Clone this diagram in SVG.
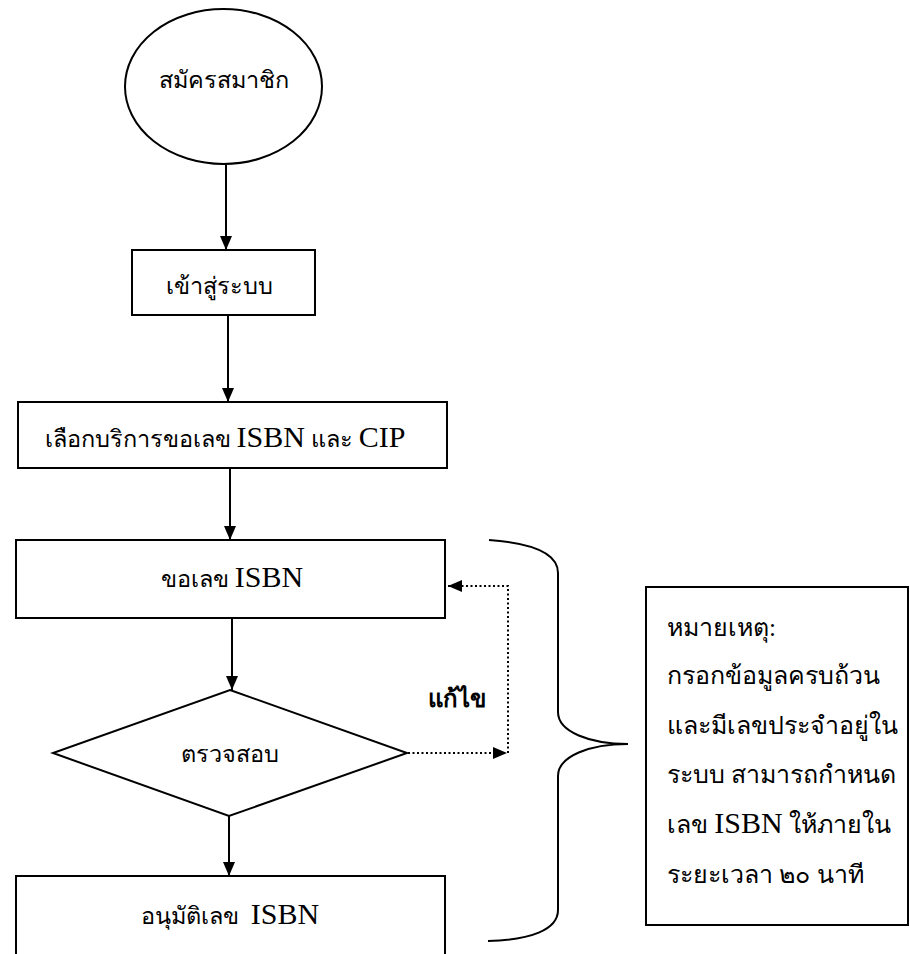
<svg xmlns="http://www.w3.org/2000/svg" width="910" height="954" viewBox="0 0 910 954">
<defs>
<style>
.shape{fill:#fff;stroke:#000;stroke-width:2}
.t{font-family:"Liberation Serif","Times New Roman",serif;font-size:23.5px;fill:#000;text-anchor:middle}
.n{font-family:"Liberation Serif","Times New Roman",serif;font-size:25px;fill:#000}
.lat{font-size:30px}
.lbl{font-family:"Liberation Sans",Arial,sans-serif;font-size:24px;font-weight:bold;fill:#000;text-anchor:middle}
.solid{fill:none;stroke:#000;stroke-width:2}
.dot{fill:none;stroke:#000;stroke-width:2;stroke-dasharray:2 2.5}
</style>
<marker id="ah" markerWidth="14" markerHeight="12" refX="14" refY="6" orient="auto" markerUnits="userSpaceOnUse">
<path d="M0,0 L14,6 L0,12 Z" fill="#000"/>
</marker>
</defs>
<rect width="910" height="954" fill="#fff"/>
<g id="connectors">
<path class="solid" d="M226,164 V250" marker-end="url(#ah)"/>
<path class="solid" d="M228,315 V402" marker-end="url(#ah)"/>
<path class="solid" d="M230,468 V540" marker-end="url(#ah)"/>
<path class="solid" d="M232,618 V690" marker-end="url(#ah)"/>
<path class="solid" d="M229,816 V876" marker-end="url(#ah)"/>
<path class="dot" d="M408,753 H507" marker-end="url(#ah)"/>
<path class="dot" d="M508,753 V586 H448" marker-end="url(#ah)"/>
<text class="lbl" x="457" y="707">แก้ไข</text>
</g>
<g id="start">
<ellipse class="shape" cx="223.5" cy="86.5" rx="98.5" ry="77.5"/>
<text class="t" x="224" y="88">สมัครสมาชิก</text>
</g>
<g id="login">
<rect class="shape" x="132" y="250" width="183" height="65"/>
<text class="t" x="219" y="294">เข้าสู่ระบบ</text>
</g>
<g id="select">
<rect class="shape" x="18" y="402" width="429" height="66"/>
<text class="t" x="225" y="447">เลือกบริการขอเลข <tspan class="lat">ISBN</tspan> และ <tspan class="lat">CIP</tspan></text>
</g>
<g id="request">
<rect class="shape" x="16" y="540" width="429" height="78"/>
<text class="t" x="232" y="587">ขอเลข <tspan class="lat">ISBN</tspan></text>
</g>
<g id="check">
<polygon class="shape" points="230,690 407,753 229,816 53,753"/>
<text class="t" x="230" y="762">ตรวจสอบ</text>
</g>
<g id="approve">
<rect class="shape" x="16" y="876" width="429" height="110"/>
<text class="t" x="230" y="924">อนุมัติเลข <tspan class="lat" dx="6">ISBN</tspan></text>
</g>
<g id="brace">
<path class="solid" d="M489,540 C530,543 558,553 558,573 V712 C558,732 590,744 628,744 C590,744 558,756 558,776 V910 C558,930 530,940 488,941"/>
</g>
<g id="note">
<rect class="shape" x="646" y="587" width="262" height="338"/>
<text class="n" x="667" y="636">หมายเหตุ:</text>
<text class="n" x="667" y="684">กรอกข้อมูลครบถ้วน</text>
<text class="n" x="667" y="734">และมีเลขประจำอยู่ใน</text>
<text class="n" x="667" y="783">ระบบ สามารถกำหนด</text>
<text class="n" x="667" y="833">เลข <tspan class="lat" font-size="29px">ISBN</tspan> ให้ภายใน</text>
<text class="n" x="667" y="883">ระยะเวลา ๒๐ นาที</text>
</g>
</svg>
